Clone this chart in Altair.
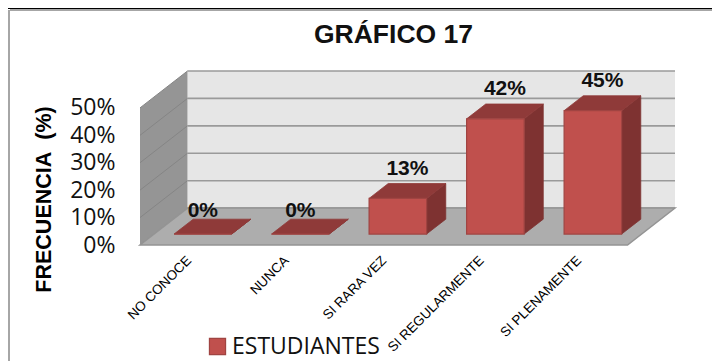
import altair as alt
import pandas as pd

categories = ["NO CONOCE", "NUNCA", "SI RARA VEZ", "SI REGULARMENTE", "SI PLENAMENTE"]
values = [0, 0, 13, 42, 45]
levels = [0, 10, 20, 30, 40, 50]
series_name = "ESTUDIANTES"

# oblique 3-D projection: depth 0 = front of the floor, depth 1 = back wall
DX, DY = 0.487, 13.45
BAR_FRONT, BAR_BACK, HALF = 0.297, 0.70, 0.295
N, TOP = len(categories), max(levels)


def px(c, d):
    return c + d * DX


def py(v, d):
    return v + d * DY


XS = alt.Scale(domain=[0, N + DX], nice=False, zero=False)
YS = alt.Scale(domain=[0, TOP + DY], nice=False, zero=False)

cat_js = "[" + ",".join("'" + c + "'" for c in categories) + "]"

x_axis = alt.Axis(values=[i + 0.5 for i in range(N)], labelExpr=f"{cat_js}[floor(datum.value)]",
                  labelAngle=315, labelAlign="right", labelBaseline="middle", labelPadding=13,
                  labelFont="Liberation Sans", labelFontSize=13.5, labelColor="#000",
                  labelOverlap=False, labelBound=False, labelFlush=False,
                  domain=False, ticks=False, grid=False, title=None)
y_axis = alt.Axis(values=levels, labelExpr="datum.value + '%'", labelFont="Open Sans", labelFontSize=23,
                  labelColor="#111", labelPadding=25, domain=False, ticks=False, grid=False,
                  labelOverlap=False, labelBound=False,
                  title="FRECUENCIA\u00a0\u00a0(%)", titleFont="Liberation Sans", titleFontSize=21.5,
                  titleFontWeight="bold", titleColor="#000", titleX=-85, titleY=128)


def X(f="x"):
    return alt.X(f + ":Q", scale=XS, axis=x_axis)


def Y(f="y"):
    return alt.Y(f + ":Q", scale=YS, axis=y_axis)


# walls and floor
back = pd.DataFrame([dict(x=px(0, 1), x2=px(N, 1), y=py(0, 1), y2=py(TOP, 1))])
wall = pd.DataFrame([dict(x=px(0, d), y=py(TOP, d), y2=py(0, d)) for d in (0, 1)])
floor = pd.DataFrame([dict(y=py(0, d), x=px(0, d), x2=px(N, d)) for d in (0, 1)])
grid_back = pd.DataFrame([dict(x=px(c, 1), y=py(v, 1), lv=v) for v in levels for c in (0, N)])
grid_wall = pd.DataFrame([dict(x=px(0, d), y=py(v, d), lv=v) for v in levels for d in (0, 1)])

# bars
front, side, top, labels = [], [], [], []
for i, (c, v) in enumerate(zip(categories, values)):
    m = i + 0.5
    front.append(dict(x=px(m - HALF, BAR_FRONT), x2=px(m + HALF, BAR_FRONT),
                      y=py(v, BAR_FRONT), y2=py(0, BAR_FRONT), s=series_name))
    for d in (BAR_FRONT, BAR_BACK):
        side.append(dict(c=c, x=px(m + HALF, d), y=py(v, d), y2=py(0, d)))
        top.append(dict(c=c, y=py(v, d), x=px(m - HALF, d), x2=px(m + HALF, d)))
    shift = 0.5 if v > 0 else 0.0
    lift = 5.4 if v > 0 else 3.0
    labels.append(dict(x=px(m, BAR_FRONT + shift * (BAR_BACK - BAR_FRONT)), y=py(v, BAR_BACK) + lift, t=f"{v}%"))
front, side, top, labels = map(pd.DataFrame, (front, side, top, labels))

layers = [
    alt.Chart(back).mark_rect(color="#E6E6E6").encode(x=X(), x2="x2:Q", y=Y(), y2="y2:Q"),
    alt.Chart(grid_back).mark_line(color="#9A9A9A", strokeWidth=1.6).encode(x=X(), y=Y(), detail="lv:N"),
    alt.Chart(wall).mark_area(color="#959595").encode(x=X(), y=Y(), y2="y2:Q"),
    alt.Chart(grid_wall).mark_line(color="#858585", strokeWidth=1).encode(x=X(), y=Y(), detail="lv:N"),
    alt.Chart(floor).mark_area(orient="horizontal", color="#ADADAD", stroke="#949494", strokeWidth=1.5).encode(
        y=Y(), x=X(), x2="x2:Q"),
    alt.Chart(side).mark_area(color="#7E3231", stroke="#7E3231", strokeWidth=0.8).encode(
        x=X(), y=Y(), y2="y2:Q", detail="c:N"),
    alt.Chart(top).mark_area(orient="horizontal", color="#8F3A39", stroke="#8F3A39", strokeWidth=0.8).encode(
        y=Y(), x=X(), x2="x2:Q", detail="c:N"),
    alt.Chart(front).mark_rect(stroke="#A04442", strokeWidth=1.2).encode(
        x=X(), x2="x2:Q", y=Y(), y2="y2:Q",
        color=alt.Color("s:N", scale=alt.Scale(domain=[series_name], range=["#C0504D"]),
                        legend=alt.Legend(title=None, orient="none", legendX=66, legendY=264,
                                          symbolType="square", symbolSize=260, symbolStrokeWidth=1.2,
                                          symbolStrokeColor="#A04442", symbolOpacity=1,
                                          labelFont="Open Sans", labelFontSize=23, labelColor="#111",
                                          labelOffset=3, labelLimit=300))),
    alt.Chart(labels).mark_text(font="Liberation Sans", fontWeight="bold", fontSize=21, color="#111",
                                baseline="middle").encode(x=X(), y=Y(), text="t:N"),
    # page frame
    alt.Chart(back).mark_rule(color="#000", strokeWidth=1).encode(
        x=alt.value(-132), x2=alt.value(572), y=alt.value(-62.5)),
    alt.Chart(back).mark_rule(color="#A6A6A6", strokeWidth=2).encode(
        x=alt.value(-130), x2=alt.value(572), y=alt.value(-61)),
    alt.Chart(back).mark_rule(color="#A6A6A6", strokeWidth=2).encode(
        x=alt.value(-131), y=alt.value(-61), y2=alt.value(290)),
]

chart = alt.layer(*layers).properties(
    width=535, height=174,
    title=alt.TitleParams("GRÁFICO 17", font="Liberation Sans", fontWeight="bold", fontSize=26.5,
                          color="#111", anchor="middle", frame="group", offset=-61, dx=-14,
                          baseline="alphabetic"),
    autosize=alt.AutoSizeParams(type="none"),
    padding={"left": 132, "top": 63, "right": 37, "bottom": 116},
).configure_view(stroke=None)

chart.save("out.html", embed_options={"renderer": "svg", "actions": False})
